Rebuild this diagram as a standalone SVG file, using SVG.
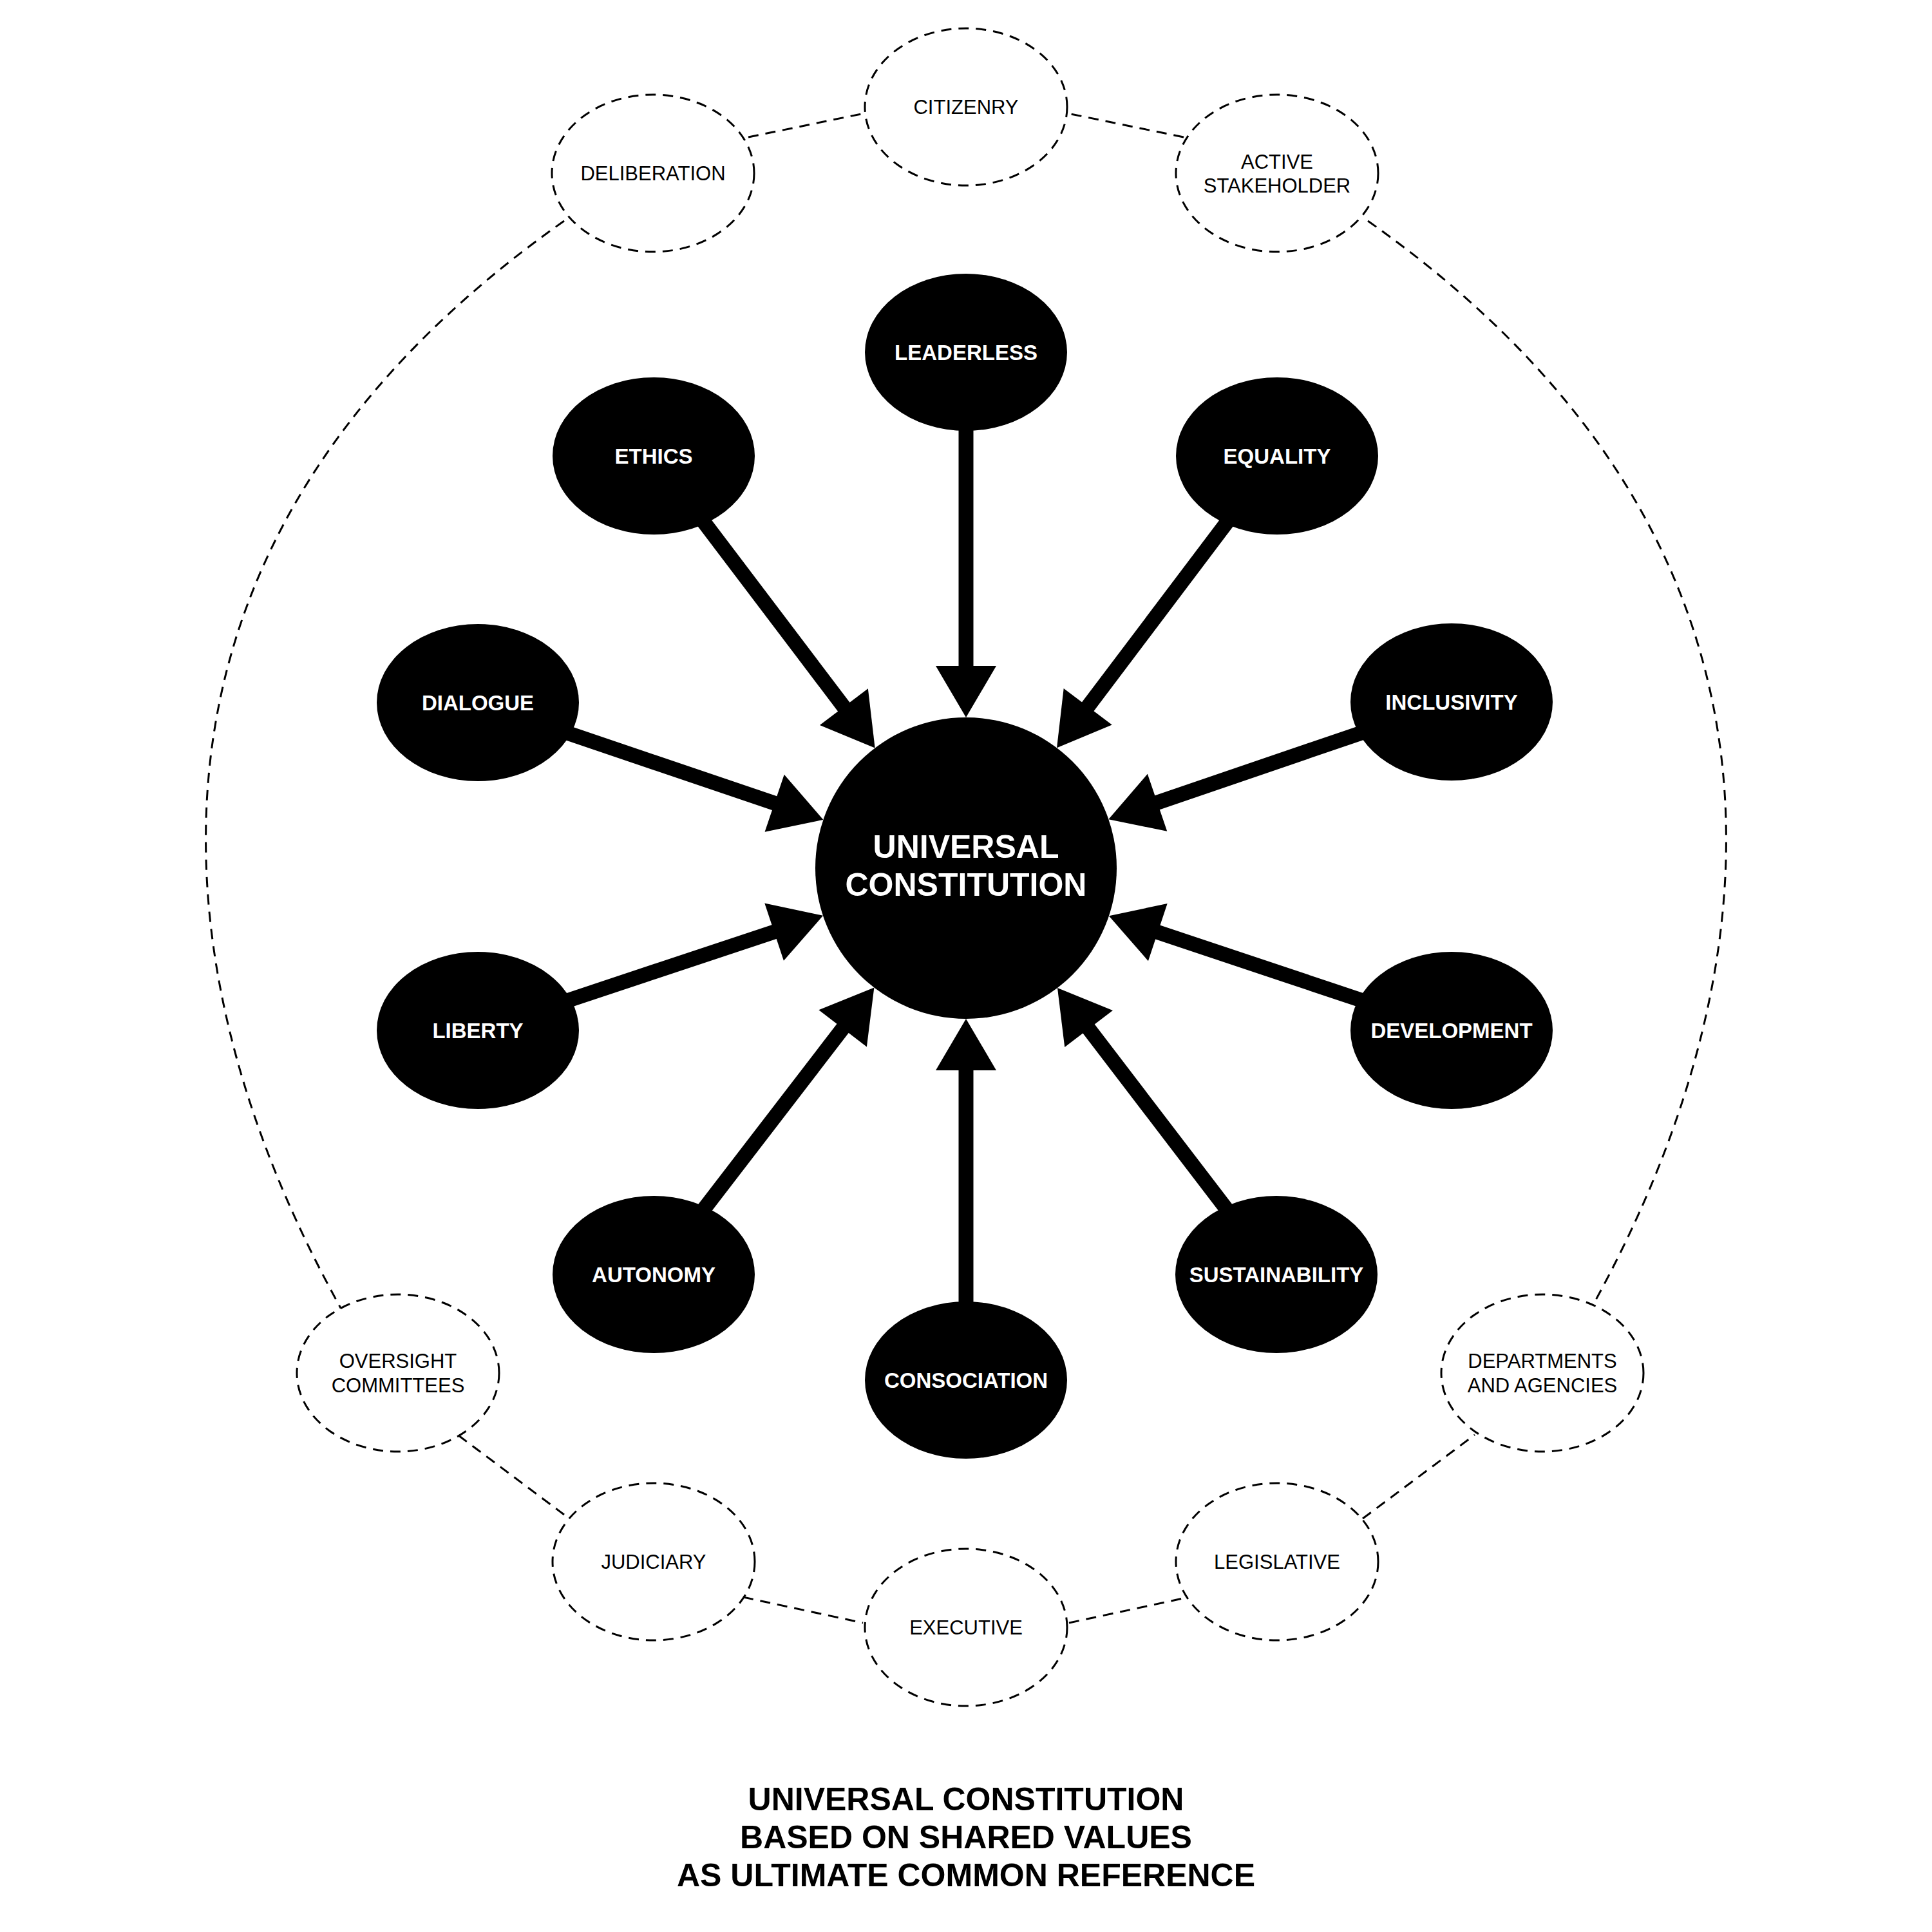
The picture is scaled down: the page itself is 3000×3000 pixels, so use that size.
<svg xmlns="http://www.w3.org/2000/svg" width="3000" height="3000" viewBox="0 0 3000 3000">
<style>
.bg{fill:#fff}
.val{fill:#000}
.valt{fill:#fff;font-family:"Liberation Sans",Arial,sans-serif;font-weight:bold;font-size:33px;text-anchor:middle}
.hubt{fill:#fff;font-family:"Liberation Sans",Arial,sans-serif;font-weight:bold;font-size:50px;text-anchor:middle}
.dn{fill:#fff;stroke:#000;stroke-width:3;stroke-dasharray:16 11}
.dnt{fill:#000;font-family:"Liberation Sans",Arial,sans-serif;font-size:31px;text-anchor:middle}
.dl{fill:none;stroke:#000;stroke-width:3;stroke-dasharray:16 11}
.arr{stroke:#000;stroke-width:23;fill:none;marker-end:url(#ah)}
.title{fill:#000;font-family:"Liberation Sans",Arial,sans-serif;font-weight:bold;font-size:50px;text-anchor:middle}
</style>
<defs>
<marker id="ah" markerUnits="userSpaceOnUse" markerWidth="80" markerHeight="94" refX="10" refY="47" orient="auto" overflow="visible">
<path d="M0,0 L80,47 L0,94 Z" fill="#000"/>
</marker>
</defs>
<rect class="bg" x="0" y="0" width="3000" height="3000"/>

<g id="connectors">
<g id="dashed-links">
<path class="dl" d="M876,343 C-20,974 405,1806 530,2033"/>
<path class="dl" d="M2124,343 C3020,974 2595,1806 2470,2033"/>
<line class="dl" x1="1162" y1="213" x2="1342" y2="176"/>
<line class="dl" x1="1838" y1="213" x2="1658" y2="176"/>
<line class="dl" x1="712" y1="2229" x2="884" y2="2358"/>
<line class="dl" x1="1154" y1="2480" x2="1340" y2="2520"/>
<line class="dl" x1="1660" y1="2520" x2="1846" y2="2480"/>
<line class="dl" x1="2116" y1="2358" x2="2290" y2="2228"/>
</g>
<g id="arrows">
<line class="arr" x1="1500" y1="657" x2="1500" y2="1044"/>
<line class="arr" x1="1500" y1="2033" x2="1500" y2="1652"/>
<line class="arr" x1="1087.5" y1="803.5" x2="1316.4" y2="1105.7"/>
<line class="arr" x1="1910.8" y1="803.6" x2="1683.2" y2="1105.3"/>
<line class="arr" x1="874.5" y1="1135.9" x2="1212.1" y2="1250.4"/>
<line class="arr" x1="2121.7" y1="1135.3" x2="1787.6" y2="1249.5"/>
<line class="arr" x1="874.9" y1="1555.8" x2="1211.6" y2="1443.9"/>
<line class="arr" x1="2121.2" y1="1555.6" x2="1788.3" y2="1444.4"/>
<line class="arr" x1="1088.2" y1="1883.8" x2="1314.7" y2="1589.0"/>
<line class="arr" x1="1909.2" y1="1883.6" x2="1684.5" y2="1589.6"/>
</g>
</g>

<g id="hub">
<circle class="val" cx="1500" cy="1348" r="234"/>
<text class="hubt" x="1500" y="1332">UNIVERSAL</text>
<text class="hubt" x="1500" y="1391">CONSTITUTION</text>
</g>

<g id="leaderless"><ellipse class="val" cx="1500" cy="547" rx="157" ry="122"/><text class="valt" x="1500" y="559">LEADERLESS</text></g>
<g id="ethics"><ellipse class="val" cx="1015" cy="708" rx="157" ry="122"/><text class="valt" x="1015" y="720">ETHICS</text></g>
<g id="equality"><ellipse class="val" cx="1983" cy="708" rx="157" ry="122"/><text class="valt" x="1983" y="720">EQUALITY</text></g>
<g id="dialogue"><ellipse class="val" cx="742" cy="1091" rx="157" ry="122"/><text class="valt" x="742" y="1103">DIALOGUE</text></g>
<g id="inclusivity"><ellipse class="val" cx="2254" cy="1090" rx="157" ry="122"/><text class="valt" x="2254" y="1102">INCLUSIVITY</text></g>
<g id="liberty"><ellipse class="val" cx="742" cy="1600" rx="157" ry="122"/><text class="valt" x="742" y="1612">LIBERTY</text></g>
<g id="development"><ellipse class="val" cx="2254" cy="1600" rx="157" ry="122"/><text class="valt" x="2254" y="1612">DEVELOPMENT</text></g>
<g id="autonomy"><ellipse class="val" cx="1015" cy="1979" rx="157" ry="122"/><text class="valt" x="1015" y="1991">AUTONOMY</text></g>
<g id="sustainability"><ellipse class="val" cx="1982" cy="1979" rx="157" ry="122"/><text class="valt" x="1982" y="1991">SUSTAINABILITY</text></g>
<g id="consociation"><ellipse class="val" cx="1500" cy="2143" rx="157" ry="122"/><text class="valt" x="1500" y="2155">CONSOCIATION</text></g>

<g id="citizenry"><ellipse class="dn" cx="1500" cy="166" rx="157" ry="122"/><text class="dnt" x="1500" y="177">CITIZENRY</text></g>
<g id="deliberation"><ellipse class="dn" cx="1014" cy="269" rx="157" ry="122"/><text class="dnt" x="1014" y="280">DELIBERATION</text></g>
<g id="active-stakeholder"><ellipse class="dn" cx="1983" cy="269" rx="157" ry="122"/><text class="dnt" x="1983" y="262">ACTIVE</text><text class="dnt" x="1983" y="299">STAKEHOLDER</text></g>
<g id="oversight-committees"><ellipse class="dn" cx="618" cy="2132" rx="157" ry="122"/><text class="dnt" x="618" y="2124">OVERSIGHT</text><text class="dnt" x="618" y="2162">COMMITTEES</text></g>
<g id="departments-agencies"><ellipse class="dn" cx="2395" cy="2132" rx="157" ry="122"/><text class="dnt" x="2395" y="2124">DEPARTMENTS</text><text class="dnt" x="2395" y="2162">AND AGENCIES</text></g>
<g id="judiciary"><ellipse class="dn" cx="1015" cy="2425" rx="157" ry="122"/><text class="dnt" x="1015" y="2436">JUDICIARY</text></g>
<g id="executive"><ellipse class="dn" cx="1500" cy="2527" rx="157" ry="122"/><text class="dnt" x="1500" y="2538">EXECUTIVE</text></g>
<g id="legislative"><ellipse class="dn" cx="1983" cy="2425" rx="157" ry="122"/><text class="dnt" x="1983" y="2436">LEGISLATIVE</text></g>

<g id="title">
<text class="title" x="1500" y="2811">UNIVERSAL CONSTITUTION</text>
<text class="title" x="1500" y="2870">BASED ON SHARED VALUES</text>
<text class="title" x="1500" y="2929">AS ULTIMATE COMMON REFERENCE</text>
</g>
</svg>
